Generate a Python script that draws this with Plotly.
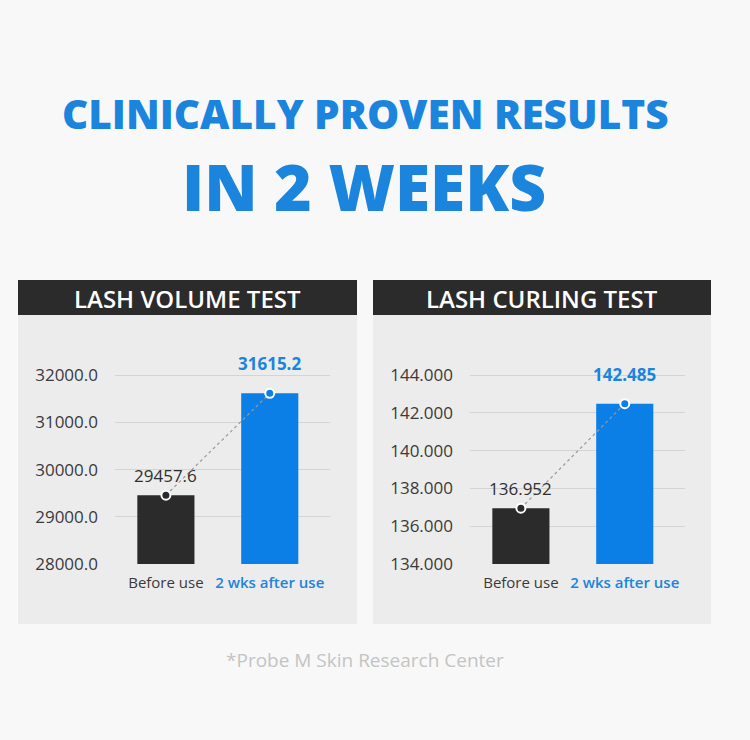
import plotly.graph_objects as go

# ---- data ----
categories = ["Before use", "2 wks after use"]
volume_values = [29457.6, 31615.2]
curling_values = [136.952, 142.485]
volume_ticks = [28000, 29000, 30000, 31000, 32000]
curling_ticks = [134, 136, 138, 140, 142, 144]
panel_titles = ["LASH VOLUME TEST", "LASH CURLING TEST"]
title_line1 = "CLINICALLY PROVEN RESULTS"
title_line2 = "IN 2 WEEKS"
footnote = "*Probe M Skin Research Center"

W, H = 750, 740
BLUE = "#0b7fe6"
TBLUE = "#1b84dd"
DARK = "#2b2b2b"
PANEL = "#ececec"
BG = "#f8f8f8"
FONT = "Open Sans"

def px(x):
    return x / W

def py(y):
    return 1 - y / H

fig = go.Figure()

charts = [
    dict(vals=volume_values, ticks=volume_ticks, fmt=".1f", xa="x", ya="y",
         xdom=[px(115), px(330)], yr=[28000, 28000 + 219 / 47.2 * 1000]),
    dict(vals=curling_values, ticks=curling_ticks, fmt=".3f", xa="x2", ya="y2",
         xdom=[px(470), px(685)], yr=[134, 134 + 219 / 18.9]),
]

bar_colors = [DARK, BLUE]
label_colors = ["#2f2f2f", TBLUE]
label_weights = [400, 700]
label_shift = [6, 16]

annotations = []
for c in charts:
    for i, cat in enumerate(categories):
        fig.add_trace(go.Bar(
            x=[cat], y=[c["vals"][i]],
            marker=dict(color=bar_colors[i], line=dict(width=0)),
            width=0.55, xaxis=c["xa"], yaxis=c["ya"], showlegend=False,
            hoverinfo="skip"))
        annotations.append(dict(
            x=cat, y=c["vals"][i], xref=c["xa"], yref=c["ya"],
            text=format(c["vals"][i], c["fmt"]), showarrow=False,
            yanchor="bottom", yshift=label_shift[i],
            font=dict(family=FONT, size=17, color=label_colors[i],
                      weight=label_weights[i])))
    fig.add_trace(go.Scatter(
        x=categories, y=c["vals"], mode="lines+markers",
        line=dict(color="#9a9a9a", width=1.2, dash="dot"),
        marker=dict(size=9, color=[DARK, BLUE], line=dict(color="white", width=2)),
        xaxis=c["xa"], yaxis=c["ya"], showlegend=False, hoverinfo="skip"))

tick_text_cat = [
    "<span style='color:#3a3a3a'>Before use</span>",
    "<span style='color:%s;font-weight:600'>2 wks after use</span>" % TBLUE,
]

for k, c in enumerate(charts):
    sfx = "" if k == 0 else "2"
    fig.update_layout(**{
        "xaxis" + sfx: dict(
            domain=c["xdom"], anchor="y" + sfx, range=[-0.49, 1.58],
            tickmode="array", tickvals=categories, ticktext=tick_text_cat,
            showgrid=False, zeroline=False, showline=False, automargin=False,
            tickfont=dict(family=FONT, size=15), ticklabelstandoff=8,
            fixedrange=True),
        "yaxis" + sfx: dict(
            domain=[py(564), py(345)], anchor="x" + sfx, range=c["yr"],
            tickmode="array", tickvals=c["ticks"],
            ticktext=[format(t, c["fmt"]) for t in c["ticks"]],
            showgrid=True, gridcolor="#d4d4d4", gridwidth=1, zeroline=False,
            showline=False, automargin=False,
            tickfont=dict(family=FONT, size=17, color="#3a3a3a"),
            ticklabelstandoff=16, fixedrange=True),
    })

shapes = []
panels_x = [(18, 357), (373, 711)]
for (x0, x1), t in zip(panels_x, panel_titles):
    shapes.append(dict(type="rect", xref="paper", yref="paper", layer="below",
                       x0=px(x0), x1=px(x1), y0=py(624), y1=py(315),
                       fillcolor=PANEL, line=dict(width=0)))
    shapes.append(dict(type="rect", xref="paper", yref="paper", layer="below",
                       x0=px(x0), x1=px(x1), y0=py(315), y1=py(280),
                       fillcolor=DARK, line=dict(width=0)))
    annotations.append(dict(x=px((x0 + x1) / 2), y=py(298), xref="paper", yref="paper",
                            text=t, showarrow=False, xanchor="center", yanchor="middle",
                            font=dict(family=FONT, size=24, color="white", weight=600)))

annotations.append(dict(x=px(365), y=py(114), xref="paper", yref="paper",
                        text=title_line1, showarrow=False, xanchor="center", yanchor="middle",
                        font=dict(family=FONT, size=40.5, color=TBLUE, weight=800)))
annotations.append(dict(x=px(364), y=py(186), xref="paper", yref="paper",
                        text=title_line2, showarrow=False, xanchor="center", yanchor="middle",
                        font=dict(family=FONT, size=64, color=TBLUE, weight=800)))
annotations.append(dict(x=px(365), y=py(660), xref="paper", yref="paper",
                        text=footnote, showarrow=False, xanchor="center", yanchor="middle",
                        font=dict(family=FONT, size=19, color="#c4c4c4")))

fig.update_layout(
    width=W, height=H, margin=dict(l=0, r=0, t=0, b=0, autoexpand=False),
    paper_bgcolor=BG, plot_bgcolor="rgba(0,0,0,0)",
    shapes=shapes, annotations=annotations, bargap=0.45, showlegend=False,
)

css_fix = (
    "var s=document.createElement('style');"
    "s.textContent='html,body{margin:0;padding:0;height:%dpx;overflow:hidden;background:%s;}';"
    "document.head.appendChild(s);" % (H, BG)
)
fig.write_html("out.html", config={"displayModeBar": False}, post_script=css_fix)
